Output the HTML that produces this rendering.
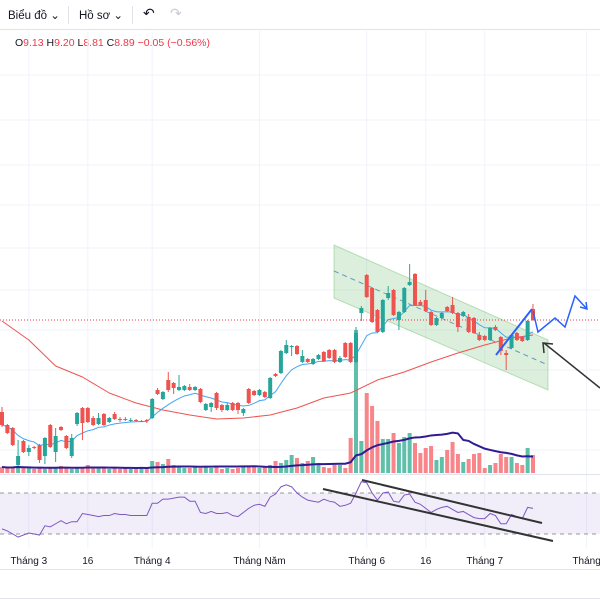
<!DOCTYPE html>
<html><head><meta charset="utf-8"><style>
html,body{margin:0;padding:0;background:#fff;width:600px;height:600px;overflow:hidden;font-family:"Liberation Sans","Noto Sans CJK SC",sans-serif}
#tb{position:absolute;left:0;top:0;width:600px;height:29px;border-bottom:1px solid #e0e3eb;font-size:11.5px;color:#131722}
.tbi{position:absolute;top:8px}
.sep{position:absolute;top:6px;width:1px;height:18px;background:#e0e3eb}
#ohlc{position:absolute;left:15px;top:37px;font-size:10.5px;color:#131722}
#ohlc span{color:#f23645}
svg{position:absolute;left:0;top:0}
</style></head><body>
<div id="tb">
<div class="tbi" style="left:8px">Biểu đồ ⌄</div>
<div class="sep" style="left:68px"></div>
<div class="tbi" style="left:79px">Hồ sơ ⌄</div>
<div class="sep" style="left:132px"></div>
<div class="tbi" style="left:143px;font-size:14px;top:5px">↶</div>
<div class="tbi" style="left:170px;font-size:14px;top:5px;color:#c8cbd3">↷</div>
</div>
<div id="ohlc">O<span>9.13</span> H<span>9.20</span> L<span>8.81</span> C<span>8.89</span> <span>−0.05 (−0.56%)</span></div>
<svg id="c" width="600" height="600"></svg>
<script>
const opens=[4.4,3.75,3.6,1.75,2.95,2.4,2.65,2.75,2.2,3.75,2.4,3.65,3.2,2.2,3.8,4.6,4.6,4.1,3.8,4.3,3.9,4.3,4.05,4.05,4.0,4.0,3.95,4.0,4.1,5.5,5.05,6.0,5.85,5.5,5.5,5.65,5.5,5.55,4.5,4.65,5.35,4.75,4.5,4.85,4.85,4.35,5.55,5.45,5.25,5.4,5.1,6.3,6.35,7.35,7.7,7.7,6.9,7.05,6.8,7.05,7.4,7.5,7.5,6.9,7.85,7.85,6.9,9.35,11.25,10.6,9.5,8.4,10.1,10.5,9.0,9.4,10.75,11.3,9.9,10.0,9.4,8.75,9.1,9.65,9.75,9.35,9.2,9.15,9.1,8.25,8.2,8.0,8.65,8.15,7.35,7.6,8.35,8.15,8.0,9.55];
const closes=[3.75,3.35,2.75,2.2,2.4,2.6,2.6,2.0,3.1,2.65,3.2,3.5,2.6,3.1,4.35,3.85,3.9,3.75,4.1,3.75,4.1,4.05,4.0,4.0,4.0,3.95,3.95,3.95,5.05,5.3,5.4,5.5,5.6,5.65,5.7,5.5,5.65,4.9,4.8,4.85,4.6,4.5,4.75,4.5,4.5,4.55,4.85,5.25,5.5,5.15,6.1,6.2,7.45,7.75,7.7,7.3,7.2,6.9,7.05,7.25,6.95,7.1,6.9,7.1,7.15,6.9,8.35,9.6,10.15,8.9,8.4,10.0,10.35,9.25,9.4,10.6,10.9,9.75,9.75,9.45,8.75,9.1,9.35,9.45,9.35,8.65,9.4,8.4,8.35,8.0,8.0,8.6,8.5,7.45,7.25,8.25,8.0,7.95,8.95,9.0];
const highs=[4.65,3.8,3.65,3.0,3.0,2.75,2.7,2.8,3.15,3.8,3.6,3.7,3.25,3.3,4.4,4.65,4.65,4.2,4.35,4.35,4.15,4.4,4.15,4.15,4.1,4.05,4.0,4.05,5.1,5.6,5.45,6.4,5.9,6.25,5.75,5.8,5.7,5.6,4.85,4.9,5.4,4.8,4.85,4.9,4.9,4.6,5.6,5.5,5.55,5.45,6.15,6.35,7.5,8.0,7.75,7.75,7.5,7.1,7.1,7.3,7.45,7.55,7.55,7.2,7.9,7.9,8.65,9.7,11.3,10.65,9.55,10.05,10.7,10.55,9.45,10.65,11.8,11.35,10.0,10.5,9.45,9.15,9.4,9.7,10.15,9.4,9.45,9.3,9.15,8.4,8.25,8.65,8.75,8.2,7.5,8.3,8.4,8.2,9.0,9.8];
const lows=[3.65,3.3,2.7,1.7,2.35,2.2,2.55,1.85,1.8,2.6,1.9,3.45,2.55,2.1,3.7,3.0,3.85,3.7,3.75,3.7,3.85,4.0,3.9,3.95,3.9,3.9,3.9,3.85,4.05,5.25,5.0,5.4,5.3,5.45,5.45,5.45,5.45,4.85,4.45,4.4,4.5,4.4,4.45,4.45,4.3,4.2,4.8,5.2,5.2,5.1,5.05,6.15,6.3,7.3,7.2,7.25,6.85,6.85,6.75,7.0,6.9,7.05,6.85,6.85,7.1,6.85,6.85,8.95,10.1,8.85,8.35,8.35,10.0,9.2,8.5,9.35,10.7,9.7,9.7,9.4,8.7,8.7,9.05,9.4,9.3,8.4,9.15,8.35,8.3,7.95,7.95,7.95,8.45,7.25,6.5,7.55,7.95,7.9,7.95,8.95];
const volumes=[6,5,6,7,5,5,4,5,4,6,5,7,5,4,5,6,8,6,5,5,4,5,4,5,4,4,5,4,12,11,9,14,8,6,5,5,6,5,7,5,6,4,5,4,5,6,6,7,5,6,8,12,10,13,18,15,10,12,16,10,6,5,8,8,5,35,143,32,80,67,52,34,34,40,30,36,40,30,20,25,27,13,16,23,31,19,11,14,19,20,5,8,10,19,16,16,10,8,25,18];
const ma50Idx=[0,5,10,15,20,25,30,35,40,45,50,55,60,65,70,75,80,85,90,95,99];
const ma50Vals=[8.95,8.0,6.7,6.15,5.35,4.85,4.5,4.25,4.05,4.1,4.25,4.6,5.1,5.35,6.0,6.4,6.9,7.35,7.75,8.1,8.25];
const rsi=[35,33,30,27,29,31,30,29,38,37,40,43,40,42,42,50,49,48,47,48,48,50,49,49,48,48,48,48,60,60,64,64,65,66,66,62,62,51,50,52,50,50,51,48,47,51,55,58,59,57,66,69,76,78,76,70,66,63,62,61,64,62,61,57,58,60,70,81,80,70,63,70,71,62,61,68,69,61,59,55,51,54,56,57,54,51,52,49,46,45,45,50,48,40,40,49,47,45,56,55];
const timeLabels=["Tháng 3","16","Tháng 4","Tháng Năm","Tháng 6","16","Tháng 7","Tháng"];
const timeLabelIdx=[5,16,28,48,68,79,90,109];
const lastPrice=9.0;

const NS="http://www.w3.org/2000/svg";
const svg=document.getElementById('c');
const N=closes.length;
const X=i=>2+i*(531/(N-1));
const Y=p=>500-p*20;
const VY=v=>473-v;
const RY=v=>493+(70-v)*1.025;
function mk(tag,attrs,parent){const e=document.createElementNS(NS,tag);for(const k in attrs)e.setAttribute(k,attrs[k]);(parent||svg).appendChild(e);return e;}

// grid
const grid=mk('g',{});


[75,120,165,205,248,290,330,370,410,450].forEach(y=>mk('line',{x1:0,x2:600,y1:y,y2:y,stroke:'#f0f3fa','stroke-width':1},grid));
timeLabelIdx.forEach(i=>{const x=X(i);mk('line',{x1:x,x2:x,y1:31,y2:548,stroke:'#f0f3fa','stroke-width':1},grid);});

// channel
const ch=mk('polygon',{points:'334,245 548,340 548,390 334,298',fill:'rgba(76,175,80,0.2)',stroke:'rgba(76,175,80,0.35)','stroke-width':1});


mk('line',{x1:334,y1:271,x2:548,y2:365,stroke:'#6b9bb8','stroke-width':1,'stroke-dasharray':'5,4'});

// last price line
const lp=mk('line',{x1:0,x2:600,y1:Y(lastPrice),y2:Y(lastPrice),stroke:'#f23645','stroke-width':1,'stroke-dasharray':'1,2'});



// volume
const vg=mk('g',{});


for(let i=0;i<N;i++){
  const up=closes[i]>=opens[i];
  const r=mk('rect',{x:X(i)-2,y:VY(volumes[i]),width:4,height:volumes[i],fill:up?'#5fbfa9':'#f7858a'},vg);
  
  
}
// volume MA
let vpts=[];
for(let i=0;i<N;i++){let s=0,c=0;for(let j=Math.max(0,i-19);j<=i;j++){s+=volumes[j];c++;}vpts.push(X(i)+','+VY(s/c));}
const vma=mk('polyline',{points:vpts.join(' '),fill:'none',stroke:'#311b92','stroke-width':2});



// MA50
const rp=ma50Idx.map((ix,k)=>X(ix)+','+Y(ma50Vals[k])).join(' ');
const ma50=mk('polyline',{points:rp,fill:'none',stroke:'#ef5350','stroke-width':1,'stroke-linejoin':'round'});



// EMA short
let e=closes[0],bp=[];
for(let i=0;i<N;i++){e=i?e+(closes[i]-e)*0.2:e;bp.push(X(i)+','+Y(e));}
const ema=mk('polyline',{points:bp.join(' '),fill:'none',stroke:'#42a5f5','stroke-width':1});



// candles
const cg=mk('g',{});


for(let i=0;i<N;i++){
  const up=closes[i]>=opens[i];const col=up?'#26a69a':'#ef5350';
  const g=mk('g',{},cg);
  
  
  mk('line',{x1:X(i),x2:X(i),y1:Y(highs[i]),y2:Y(lows[i]),stroke:col,'stroke-width':1},g);
  const t=Y(Math.max(opens[i],closes[i])),b=Y(Math.min(opens[i],closes[i]));
  mk('rect',{x:X(i)-2,y:t,width:4,height:Math.max(1,b-t),fill:col},g);
}

// forecast lines
const f1=mk('polyline',{points:'496,355 532,309',fill:'none',stroke:'#2962ff','stroke-width':2});


const f2=mk('polyline',{points:'533,311 538,332 555,318 565,327 575,296 587,309',fill:'none',stroke:'#2962ff','stroke-width':1.5});


mk('polyline',{points:'580,307 587,309 586,302',fill:'none',stroke:'#2962ff','stroke-width':1.5});
const ar=mk('line',{x1:600,y1:388,x2:544,y2:343,stroke:'#333','stroke-width':1.5});


mk('polyline',{points:'544,353 543,343 553,344',fill:'none',stroke:'#333','stroke-width':1.5});

// panes separators
mk('line',{x1:0,x2:600,y1:474.5,y2:474.5,stroke:'#e0e3eb','stroke-width':1});
// RSI pane
const rb=mk('rect',{x:0,y:RY(70),width:600,height:RY(30)-RY(70),fill:'rgba(126,87,194,0.1)'});


[70,30].forEach(v=>mk('line',{x1:0,x2:600,y1:RY(v),y2:RY(v),stroke:'#9598a1','stroke-width':1,'stroke-dasharray':'4,4'}));
const rl=mk('polyline',{points:rsi.map((v,i)=>X(i)+','+RY(v)).join(' '),fill:'none',stroke:'#7e57c2','stroke-width':1});


const t1=mk('line',{x1:362,y1:480,x2:542,y2:523,stroke:'#333','stroke-width':2});


const t2=mk('line',{x1:323,y1:489,x2:553,y2:541,stroke:'#333','stroke-width':2});



// time axis
mk('line',{x1:0,x2:600,y1:569.5,y2:569.5,stroke:'#e0e3eb','stroke-width':1});
mk('line',{x1:0,x2:600,y1:598.5,y2:598.5,stroke:'#e0e3eb','stroke-width':1});
timeLabels.forEach((s,k)=>{
  const t=mk('text',{x:X(timeLabelIdx[k]),y:564,'font-size':10,fill:'#131722','text-anchor':'middle','font-family':'Liberation Sans, sans-serif'});
  t.textContent=s;
  
  
});
</script>
</body></html>
